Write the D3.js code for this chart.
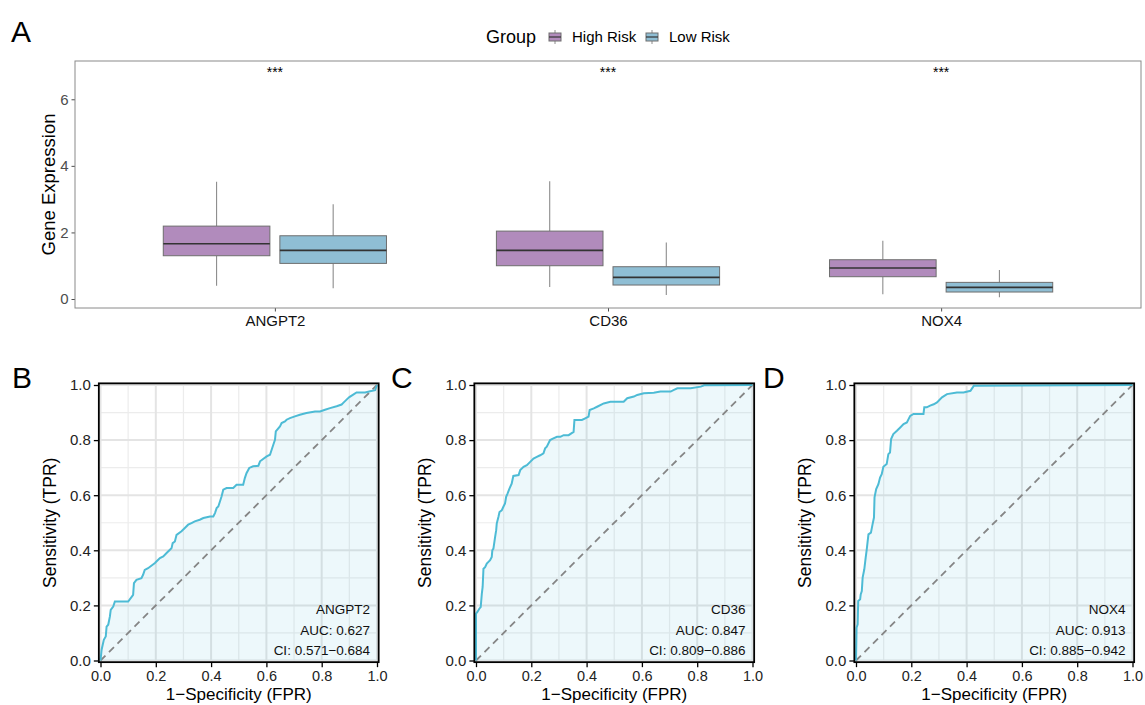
<!DOCTYPE html>
<html>
<head>
<meta charset="utf-8">
<script src="https://cdn.jsdelivr.net/npm/d3@7"></script>
<style>
  body { margin: 0; background: #fff; }
  text { font-family: "Liberation Sans", Arial, Helvetica, sans-serif; }
</style>
</head>
<body>
<script>
// ---- data ----
var genes = ["ANGPT2", "CD36", "NOX4"];
var groups = ["High Risk", "Low Risk"];
var groupColors = ["#B18BBC", "#8FBED4"];

// [lower whisker, Q1, median, Q3, upper whisker]
var highRiskStats = [
    [0.40, 1.30, 1.66, 2.19, 3.52],
    [0.36, 1.00, 1.46, 2.04, 3.54],
    [0.14, 0.67, 0.93, 1.18, 1.75]
];
var lowRiskStats = [
    [0.32, 1.07, 1.46, 1.90, 2.85],
    [0.12, 0.42, 0.65, 0.97, 1.70],
    [0.05, 0.21, 0.35, 0.50, 0.87]
];
var signifLabels = ["***", "***", "***"];
var exprTicks = [0, 2, 4, 6];

var rocTicks = [0, 0.2, 0.4, 0.6, 0.8, 1.0];
var rocMinor = [0.1, 0.3, 0.5, 0.7, 0.9];

var angpt2Fpr = [0, 0.004, 0.012, 0.019, 0.022, 0.028, 0.034, 0.037, 0.046, 0.052, 0.100, 0.112, 0.118, 0.121, 0.130, 0.148, 0.154, 0.160, 0.172, 0.197, 0.203, 0.215, 0.227, 0.239, 0.251, 0.257, 0.261, 0.269, 0.275, 0.293, 0.305, 0.317, 0.329, 0.341, 0.359, 0.372, 0.396, 0.408, 0.414, 0.420, 0.426, 0.432, 0.438, 0.444, 0.456, 0.480, 0.492, 0.516, 0.522, 0.528, 0.538, 0.552, 0.571, 0.577, 0.601, 0.613, 0.619, 0.625, 0.631, 0.634, 0.649, 0.655, 0.667, 0.673, 0.685, 0.703, 0.721, 0.745, 0.776, 0.794, 0.812, 0.830, 0.854, 0.872, 0.878, 0.890, 0.900, 0.914, 0.926, 0.957, 0.975, 0.993, 1.0];
var angpt2Tpr = [0, 0.039, 0.075, 0.087, 0.123, 0.130, 0.160, 0.184, 0.196, 0.214, 0.214, 0.230, 0.238, 0.281, 0.293, 0.299, 0.311, 0.329, 0.335, 0.354, 0.360, 0.372, 0.378, 0.390, 0.402, 0.408, 0.426, 0.432, 0.456, 0.469, 0.481, 0.493, 0.499, 0.505, 0.511, 0.517, 0.523, 0.523, 0.535, 0.553, 0.559, 0.577, 0.596, 0.620, 0.626, 0.626, 0.638, 0.638, 0.662, 0.680, 0.699, 0.705, 0.707, 0.723, 0.741, 0.747, 0.765, 0.783, 0.801, 0.832, 0.850, 0.862, 0.868, 0.874, 0.880, 0.886, 0.892, 0.898, 0.904, 0.904, 0.910, 0.916, 0.923, 0.929, 0.935, 0.947, 0.956, 0.965, 0.973, 0.973, 0.977, 0.981, 1.0];

var cd36Fpr = [0, 0, 0.005, 0.012, 0.017, 0.021, 0.024, 0.027, 0.033, 0.039, 0.045, 0.051, 0.057, 0.059, 0.063, 0.069, 0.073, 0.075, 0.081, 0.085, 0.093, 0.099, 0.105, 0.109, 0.114, 0.121, 0.129, 0.135, 0.154, 0.160, 0.172, 0.184, 0.196, 0.208, 0.220, 0.232, 0.244, 0.250, 0.256, 0.268, 0.280, 0.293, 0.305, 0.317, 0.335, 0.353, 0.356, 0.383, 0.395, 0.407, 0.411, 0.426, 0.438, 0.462, 0.486, 0.534, 0.547, 0.571, 0.583, 0.607, 0.643, 0.667, 0.704, 0.716, 0.728, 0.776, 0.813, 0.825, 1.0];
var cd36Tpr = [0, 0.170, 0.176, 0.188, 0.194, 0.242, 0.267, 0.333, 0.339, 0.352, 0.358, 0.364, 0.376, 0.400, 0.406, 0.448, 0.473, 0.497, 0.521, 0.539, 0.545, 0.558, 0.570, 0.594, 0.606, 0.624, 0.642, 0.670, 0.673, 0.691, 0.703, 0.709, 0.721, 0.733, 0.739, 0.745, 0.752, 0.770, 0.776, 0.800, 0.806, 0.812, 0.812, 0.818, 0.818, 0.830, 0.873, 0.873, 0.879, 0.885, 0.909, 0.915, 0.921, 0.933, 0.939, 0.939, 0.952, 0.958, 0.964, 0.970, 0.972, 0.976, 0.976, 0.982, 0.988, 0.988, 0.994, 0.999, 1.0];

var nox4Fpr = [0, 0.002, 0.006, 0.008, 0.015, 0.017, 0.021, 0.024, 0.030, 0.035, 0.039, 0.045, 0.054, 0.060, 0.065, 0.067, 0.073, 0.081, 0.087, 0.093, 0.099, 0.111, 0.117, 0.123, 0.127, 0.135, 0.148, 0.160, 0.172, 0.184, 0.196, 0.208, 0.244, 0.247, 0.256, 0.268, 0.281, 0.293, 0.311, 0.329, 0.365, 0.389, 0.414, 0.426, 1.0];
var nox4Tpr = [0, 0.119, 0.131, 0.216, 0.222, 0.240, 0.252, 0.301, 0.331, 0.373, 0.404, 0.458, 0.464, 0.495, 0.519, 0.592, 0.622, 0.640, 0.664, 0.676, 0.703, 0.713, 0.749, 0.755, 0.804, 0.822, 0.834, 0.846, 0.858, 0.864, 0.888, 0.895, 0.895, 0.919, 0.919, 0.925, 0.930, 0.937, 0.955, 0.967, 0.973, 0.973, 0.979, 0.997, 1.0];

var aucLabels = ["AUC: 0.627", "AUC: 0.847", "AUC: 0.913"];
var ciLabels = ["CI: 0.571\u22120.684", "CI: 0.809\u22120.886", "CI: 0.885\u22120.942"];

var rocFpr = [angpt2Fpr, cd36Fpr, nox4Fpr];
var rocTpr = [angpt2Tpr, cd36Tpr, nox4Tpr];

// ---- drawing ----
var svg = d3.select("body").append("svg")
    .attr("width", 1145)
    .attr("height", 705);

var font = "'Liberation Sans', Arial, Helvetica, sans-serif";

// -------------------------------------------------------------
// PANEL A : boxplots
var x = d3.scalePoint().domain(genes).range([75, 1141]).padding(0.6);
var step = x.step();
var y = d3.scaleLinear().domain([-0.27, 7.15]).range([308, 61]);

svg.append("text").attr("x", 11).attr("y", 42)
    .style("font-size", "30px").text("A");

var gA = svg.append("g");

// y axis
var yAxis = gA.append("g").attr("transform", "translate(75,0)")
    .call(d3.axisLeft(y).tickValues(exprTicks).tickSize(3.5).tickPadding(3));
yAxis.select(".domain").remove();
yAxis.selectAll("line").attr("stroke", "#4d4d4d");
yAxis.selectAll("text").attr("fill", "#4d4d4d").style("font-size", "15px").style("font-family", font);

// x axis
var xAxis = gA.append("g").attr("transform", "translate(0,308)")
    .call(d3.axisBottom(x).tickSize(3.5).tickPadding(4));
xAxis.select(".domain").remove();
xAxis.selectAll("line").attr("stroke", "#4d4d4d");
xAxis.selectAll("text").attr("fill", "#111").style("font-size", "15px").style("font-family", font);

// panel border
gA.append("rect")
    .attr("x", 75).attr("y", 61)
    .attr("width", 1141 - 75).attr("height", 308 - 61)
    .attr("fill", "none").attr("stroke", "#8a8a8a").attr("stroke-width", 1);

gA.append("text")
    .attr("transform", "translate(55,184.5) rotate(-90)")
    .attr("text-anchor", "middle")
    .style("font-size", "18.5px")
    .text("Gene Expression");

var boxW = 0.32 * step;
[highRiskStats, lowRiskStats].forEach(function (stats, gi) {
    var offset = (gi === 0 ? -1 : 1) * 0.175 * step;
    var g = gA.selectAll(".box" + gi)
        .data(stats)
        .enter().append("g")
        .attr("transform", function (d, i) {
            return "translate(" + (x(genes[i]) + offset) + ",0)";
        });
    g.append("line")
        .attr("y1", function (d) { return y(d[0]); })
        .attr("y2", function (d) { return y(d[1]); })
        .attr("stroke", "#8c8c8c").attr("stroke-width", 1.1);
    g.append("line")
        .attr("y1", function (d) { return y(d[3]); })
        .attr("y2", function (d) { return y(d[4]); })
        .attr("stroke", "#8c8c8c").attr("stroke-width", 1.1);
    g.append("rect")
        .attr("x", -boxW / 2).attr("width", boxW)
        .attr("y", function (d) { return y(d[3]); })
        .attr("height", function (d) { return y(d[1]) - y(d[3]); })
        .attr("fill", groupColors[gi])
        .attr("stroke", "#6e6e6e").attr("stroke-width", 1);
    g.append("line")
        .attr("x1", -boxW / 2).attr("x2", boxW / 2)
        .attr("y1", function (d) { return y(d[2]); })
        .attr("y2", function (d) { return y(d[2]); })
        .attr("stroke", "#333").attr("stroke-width", 1.6);
});

gA.selectAll(".sig")
    .data(signifLabels)
    .enter().append("text")
    .attr("x", function (d, i) { return x(genes[i]); })
    .attr("y", 77)
    .attr("text-anchor", "middle")
    .style("font-size", "14px")
    .text(function (d) { return d; });

// legend
var legend = svg.append("g");
legend.append("text").attr("x", 486).attr("y", 43)
    .style("font-size", "18px").text("Group");
var legendX = [549, 646];
groups.forEach(function (name, i) {
    var lg = legend.append("g").attr("transform", "translate(" + legendX[i] + ",31)");
    lg.append("line").attr("x1", 6).attr("x2", 6).attr("y1", -1).attr("y2", 13)
        .attr("stroke", "#8c8c8c").attr("stroke-width", 1);
    lg.append("rect").attr("x", 0).attr("y", 2).attr("width", 12).attr("height", 8)
        .attr("fill", groupColors[i]).attr("stroke", "#6e6e6e").attr("stroke-width", 1);
    lg.append("line").attr("x1", 0).attr("x2", 12).attr("y1", 6).attr("y2", 6)
        .attr("stroke", "#333").attr("stroke-width", 1.2);
    legend.append("text").attr("x", legendX[i] + 23).attr("y", 42)
        .style("font-size", "15px").text(name);
});

// -------------------------------------------------------------
// PANELS B, C, D : ROC curves
var rocLetters = ["B", "C", "D"];
var rocLeft = [100.5, 476, 856];
var letterX = [12, 391, 763];
var rocW = 276.5;
var rocTop = 385, rocBottom = 660.5;
var pad = 0.006;

rocLetters.forEach(function (letter, k) {
    var x0 = rocLeft[k];
    var sx = d3.scaleLinear().domain([0, 1]).range([x0, x0 + rocW]);
    var sy = d3.scaleLinear().domain([0, 1]).range([rocBottom, rocTop]);
    var px0 = sx(-pad), px1 = sx(1 + pad), py0 = sy(-pad), py1 = sy(1 + pad);
    var g = svg.append("g");

    svg.append("text").attr("x", letterX[k]).attr("y", 388)
        .style("font-size", "30px").text(letter);

    g.append("rect").attr("x", px0).attr("y", py1)
        .attr("width", px1 - px0).attr("height", py0 - py1).attr("fill", "#fff");

    // grid
    g.selectAll(".minx").data(rocMinor).enter().append("line")
        .attr("x1", function (d) { return sx(d); }).attr("x2", function (d) { return sx(d); })
        .attr("y1", py1).attr("y2", py0)
        .attr("stroke", "#ececec").attr("stroke-width", 1.2);
    g.selectAll(".miny").data(rocMinor).enter().append("line")
        .attr("y1", function (d) { return sy(d); }).attr("y2", function (d) { return sy(d); })
        .attr("x1", px0).attr("x2", px1)
        .attr("stroke", "#ececec").attr("stroke-width", 1.2);
    g.selectAll(".majx").data(rocTicks).enter().append("line")
        .attr("x1", function (d) { return sx(d); }).attr("x2", function (d) { return sx(d); })
        .attr("y1", py1).attr("y2", py0)
        .attr("stroke", "#e4e4e4").attr("stroke-width", 2);
    g.selectAll(".majy").data(rocTicks).enter().append("line")
        .attr("y1", function (d) { return sy(d); }).attr("y2", function (d) { return sy(d); })
        .attr("x1", px0).attr("x2", px1)
        .attr("stroke", "#e4e4e4").attr("stroke-width", 2);

    var pts = rocFpr[k].map(function (f, i) { return [f, rocTpr[k][i]]; });

    g.append("path")
        .datum(pts)
        .attr("fill", "#4DBBD5").attr("fill-opacity", 0.1)
        .attr("d", d3.area()
            .x(function (d) { return sx(d[0]); })
            .y0(sy(0))
            .y1(function (d) { return sy(d[1]); }));

    g.append("line")
        .attr("x1", sx(0)).attr("y1", sy(0)).attr("x2", sx(1)).attr("y2", sy(1))
        .attr("stroke", "#858585").attr("stroke-width", 1.8)
        .attr("stroke-dasharray", "7,5");

    g.append("path")
        .datum(pts)
        .attr("fill", "none").attr("stroke", "#4DBBD5").attr("stroke-width", 2)
        .attr("d", d3.line()
            .x(function (d) { return sx(d[0]); })
            .y(function (d) { return sy(d[1]); }));

    g.append("rect").attr("x", px0).attr("y", py1)
        .attr("width", px1 - px0).attr("height", py0 - py1)
        .attr("fill", "none").attr("stroke", "#000").attr("stroke-width", 1.8);

    var ax = g.append("g").attr("transform", "translate(0," + py0 + ")")
        .call(d3.axisBottom(sx).tickValues(rocTicks).tickFormat(d3.format(".1f")).tickSize(5).tickPadding(4));
    ax.select(".domain").remove();
    ax.selectAll("line").attr("stroke", "#000").attr("stroke-width", 1.3);
    ax.selectAll("text").attr("fill", "#222").style("font-size", "14.5px").style("font-family", font);

    var ay = g.append("g").attr("transform", "translate(" + px0 + ",0)")
        .call(d3.axisLeft(sy).tickValues(rocTicks).tickFormat(d3.format(".1f")).tickSize(5).tickPadding(3));
    ay.select(".domain").remove();
    ay.selectAll("line").attr("stroke", "#000").attr("stroke-width", 1.3);
    ay.selectAll("text").attr("fill", "#222").style("font-size", "15px").style("font-family", font);

    g.append("text")
        .attr("x", (px0 + px1) / 2).attr("y", 700)
        .attr("text-anchor", "middle").style("font-size", "17px")
        .text("1\u2212Specificity (FPR)");
    g.append("text")
        .attr("transform", "translate(" + (px0 - 43) + "," + ((rocTop + rocBottom) / 2) + ") rotate(-90)")
        .attr("text-anchor", "middle").style("font-size", "17.5px")
        .text("Sensitivity (TPR)");

    var lines = [genes[k], aucLabels[k], ciLabels[k]];
    g.selectAll(".lab").data(lines).enter().append("text")
        .attr("x", sx(0.975))
        .attr("y", function (d, i) { return 614 + i * 20.5; })
        .attr("text-anchor", "end")
        .attr("fill", "#111")
        .style("font-size", "13.5px")
        .text(function (d) { return d; });
});
</script>
</body>
</html>
